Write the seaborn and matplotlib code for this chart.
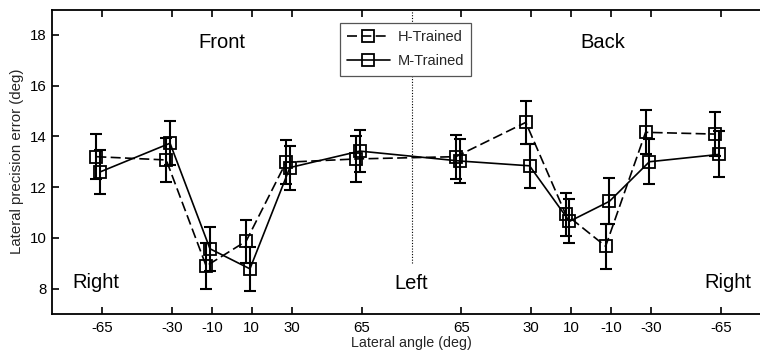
import matplotlib
matplotlib.use("Agg")
import matplotlib.pyplot as plt
import numpy as np
import pandas as pd
import seaborn as sns

# ---- data ----
angles = [-65, -30, -10, 10, 30, 65, 115, 150, 170, 190, 210, 245]
tick_labels = ["-65", "-30", "-10", "10", "30", "65", "65", "30", "10", "-10", "-30", "-65"]
h_trained = [13.20, 13.07, 8.89, 9.87, 12.98, 13.11, 13.20, 14.55, 10.93, 9.67, 14.16, 14.09]
h_err = [0.88, 0.86, 0.90, 0.85, 0.87, 0.90, 0.87, 0.84, 0.85, 0.88, 0.87, 0.87]
m_trained = [12.60, 13.73, 9.57, 8.78, 12.77, 13.42, 13.03, 12.84, 10.65, 11.44, 13.00, 13.29]
m_err = [0.87, 0.86, 0.86, 0.87, 0.87, 0.83, 0.86, 0.87, 0.87, 0.91, 0.88, 0.91]
series_names = ["H-Trained", "M-Trained"]
y_ticks = [8, 10, 12, 14, 16, 18]

sns.set_style("ticks")
plt.rcParams["font.family"] = ["Liberation Sans", "DejaVu Sans"]

offsets = {"H-Trained": -2.8, "M-Trained": -0.9}
rows = []
for name, vals, errs in [("H-Trained", h_trained, h_err), ("M-Trained", m_trained, m_err)]:
    for a, v, e in zip(angles, vals, errs):
        rows.append({"angle": a, "xpos": a + offsets[name], "value": v, "err": e, "group": name})
df = pd.DataFrame(rows)

fig = plt.figure(figsize=(7.6, 3.6), dpi=100)
ax = fig.add_axes([52 / 760, 46 / 360, 719 / 760, 304.5 / 360])

sns.lineplot(data=df, x="xpos", y="value", style="group", style_order=series_names,
             markers={"H-Trained": "s", "M-Trained": "s"},
             dashes={"H-Trained": (6, 2.6), "M-Trained": ""},
             color="black", sort=False, estimator=None, legend=False,
             linewidth=1.2, markersize=8, ax=ax)
for ln in ax.get_lines():
    ln.set_markerfacecolor("none")
    ln.set_markeredgecolor("black")
    ln.set_markeredgewidth(1.3)

for name in series_names:
    sub = df[df["group"] == name]
    ax.errorbar(sub["xpos"], sub["value"], yerr=sub["err"], fmt="none",
                ecolor="black", elinewidth=1.5, capsize=4.5, capthick=1.5)

ax.vlines(90, 9, 19, colors="black", linestyles=(0, (1, 1.5)), linewidth=0.8)

ax.set_xlim(-90, 270)
ax.set_ylim(7, 19)
ax.set_xticks(angles)
ax.set_xticklabels(tick_labels)
ax.set_yticks(y_ticks)
ax.tick_params(direction="in", top=True, right=False, length=5, width=1.2,
               labelsize=10.8, colors="black")
ax.tick_params(axis="x", pad=5)
ax.tick_params(axis="y", pad=4)
for s in ax.spines.values():
    s.set_linewidth(1.3)
    s.set_color("black")
ax.set_xlabel("Lateral angle (deg)", fontsize=10.3, labelpad=1)
ax.set_ylabel("Lateral precision error (deg)", fontsize=10.8, labelpad=4)

txt = dict(fontsize=14.5, ha="center", va="center", color="black")
ax.text(-5, 17.7, "Front", **txt)
ax.text(186, 17.7, "Back", **txt)
ax.text(-68, 8.25, "Right", **txt)
ax.text(90, 8.2, "Left", **txt)
ax.text(248.5, 8.25, "Right", **txt)

handles = ax.get_lines()[:2]
leg = ax.legend(handles, series_names, loc="upper left",
                bbox_to_anchor=(340 / 760, 1 - 23 / 360), bbox_transform=fig.transFigure,
                fontsize=10.5, frameon=True, fancybox=False, framealpha=1,
                edgecolor="#555555", handlelength=2.9, handletextpad=0.55,
                borderpad=0.5, labelspacing=0.7, borderaxespad=0)
leg.get_frame().set_linewidth(0.9)

fig.savefig("out.png", dpi=100)
